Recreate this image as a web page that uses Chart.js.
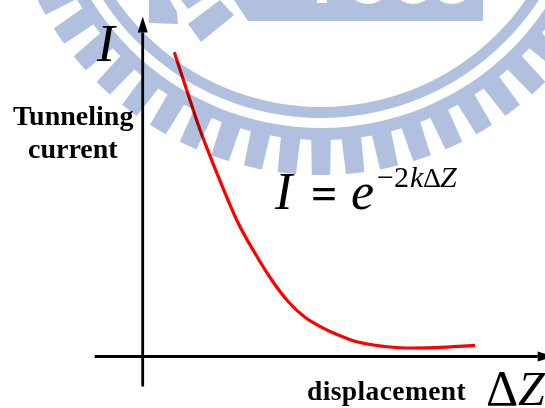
<!DOCTYPE html>
<html>
<head>
    <title>Tunneling current</title>
    <script src="https://cdn.jsdelivr.net/npm/chart.js@4/dist/chart.umd.js"></script>
    <style>
        html, body { margin: 0; padding: 0; background: #fff; }
        canvas { display: block; }
    </style>
</head>
<body>
    <canvas id="myChart" width="545" height="408"></canvas>

    <script>
        // values, origin is where the two axes cross
        var displacement = [31.6, 45.6, 55.6, 65.6, 75.6, 95.6, 112.3, 129, 145.6, 162.3, 179, 195.6, 213.2, 230.7, 247.3, 267.3, 290.6, 310.6, 332.3];
        var current = [304.2, 261.5, 231.5, 204.8, 179.8, 133.2, 103.2, 76.5, 54.8, 39.2, 29.2, 21.5, 15, 11.5, 9.5, 8.5, 8.8, 9.8, 11.2];
        var xAxisX = [-48, 395];
        var xAxisY = [0, 0];
        var yAxisX = [0, 0];
        var yAxisY = [-30, 324];

        var serif = '"Liberation Serif", "Times New Roman", serif';
        var mark = '#b0c0de';

        function poly(c, pts) {
            c.beginPath();
            c.moveTo(pts[0], pts[1]);
            for (var i = 2; i < pts.length; i += 2) c.lineTo(pts[i], pts[i + 1]);
            c.closePath();
            c.fill();
        }

        // the university seal that sits behind the figure
        function sealLayer() {
            var off = document.createElement('canvas');
            off.width = 545;
            off.height = 408;
            var c = off.getContext('2d');
            var cx = 321, cy = -142;
            c.fillStyle = '#fff';
            c.fillRect(0, 0, 545, 408);

            c.fillStyle = mark;
            c.beginPath();
            c.arc(cx, cy, 317, 0, Math.PI * 2);
            c.fill();

            // notches between the teeth, a little wider at the open end
            c.fillStyle = '#fff';
            for (var i = -30; i <= 30; i++) {
                c.save();
                c.translate(cx, cy);
                c.rotate((i + 0.5) * 6.2 * Math.PI / 180);
                poly(c, [-5.5, 282, 5.5, 282, 8.5, 325, -8.5, 325]);
                c.restore();
            }
            c.beginPath();
            c.arc(cx, cy, 270, 0, Math.PI * 2);
            c.fill();
            c.fillStyle = mark;
            c.beginPath();
            c.arc(cx, cy, 260, 0, Math.PI * 2);
            c.fill();
            c.fillStyle = '#fff';
            c.beginPath();
            c.arc(cx, cy, 249, 0, Math.PI * 2);
            c.fill();

            c.fillStyle = mark;
            poly(c, [149, 0, 170, 0, 177, 12, 178, 24, 149, 23]);
            poly(c, [181, 0, 202, 0, 188, 9]);
            poly(c, [220, 0, 234, 15, 201, 42, 188, 24]);
            poly(c, [234, 0, 248, 21, 483, 21, 483, 0]);

            // bottoms of the digits in the banner
            c.fillStyle = '#fff';
            c.fillRect(317, 0, 10, 3);
            [368, 413, 452].forEach(function (x) {
                c.beginPath();
                c.ellipse(x, -5, 15, 9, 0, 0, Math.PI * 2);
                c.fill();
            });
            return off;
        }

        function label(c, text, x, y, font) {
            c.font = font;
            c.fillText(text, x, y);
        }

        var figure = {
            id: 'figure',
            beforeDraw: function (chart) {
                chart.ctx.save();
                chart.ctx.fillStyle = '#fff';
                chart.ctx.fillRect(0, 0, 545, 408);
                chart.ctx.restore();
            },
            afterDatasetsDraw: function (chart) {
                var c = chart.ctx;
                var x0 = chart.scales.x.getPixelForValue(0);
                var y0 = chart.scales.y.getPixelForValue(0);
                var yTop = chart.scales.y.getPixelForValue(yAxisY[1]);
                var xEnd = chart.scales.x.getPixelForValue(xAxisX[1]);
                c.save();
                c.fillStyle = '#000';
                // arrow heads
                poly(c, [x0, yTop - 16, x0 + 5, yTop, x0 - 5, yTop]);
                poly(c, [xEnd + 16, y0, xEnd, y0 + 5, xEnd, y0 - 5]);

                c.textBaseline = 'alphabetic';
                c.textAlign = 'left';
                label(c, 'Tunneling', 13, 125, 'bold 28px ' + serif);
                label(c, 'current', 28, 158, 'bold 28px ' + serif);
                c.letterSpacing = '0.4px';
                label(c, 'displacement', 307, 400, 'bold 27.5px ' + serif);
                c.letterSpacing = '0px';
                label(c, 'I', 97, 61, 'italic 53px ' + serif);
                label(c, 'Δ', 486, 405, '50px ' + serif);
                label(c, 'Z', 518, 405, 'italic 48px ' + serif);

                label(c, 'I', 275, 209, 'italic 52px ' + serif);
                label(c, '=', 311, 209, 'bold 46px ' + serif);
                label(c, 'e', 351, 209, 'italic 52px ' + serif);
                label(c, '−2', 377, 187, '30px ' + serif);
                label(c, 'k', 410, 187, 'italic 30px ' + serif);
                label(c, 'Δ', 423, 187, '28px ' + serif);
                label(c, 'Z', 440, 187, 'italic 30px ' + serif);
                c.restore();
            },
            afterDraw: function (chart) {
                var c = chart.ctx;
                c.save();
                c.globalCompositeOperation = 'multiply';
                c.drawImage(sealLayer(), 0, 0);
                c.restore();
            }
        };

        function pairs(xs, ys) {
            return xs.map(function (x, i) { return { x: x, y: ys[i] }; });
        }

        var ctx = document.getElementById('myChart').getContext('2d');
        var chart = new Chart(ctx, {
            type: 'line',
            data: {
                datasets: [{
                    label: 'I',
                    data: pairs(displacement, current),
                    borderColor: '#ff0000',
                    borderWidth: 3.2,
                    pointRadius: 0,
                    cubicInterpolationMode: 'monotone',
                    fill: false
                }, {
                    label: 'x axis',
                    data: pairs(xAxisX, xAxisY),
                    borderColor: '#000',
                    borderWidth: 2.8,
                    pointRadius: 0
                }, {
                    label: 'y axis',
                    data: pairs(yAxisX, yAxisY),
                    borderColor: '#000',
                    borderWidth: 2.8,
                    pointRadius: 0
                }]
            },
            options: {
                responsive: false,
                animation: false,
                layout: { padding: 0 },
                plugins: {
                    legend: { display: false },
                    title: { display: false },
                    tooltip: { enabled: false }
                },
                scales: {
                    x: { type: 'linear', display: false, min: -142.7, max: 402.3 },
                    y: { type: 'linear', display: false, min: -51.5, max: 356.5 }
                }
            },
            plugins: [figure]
        });
    </script>
</body>
</html>
